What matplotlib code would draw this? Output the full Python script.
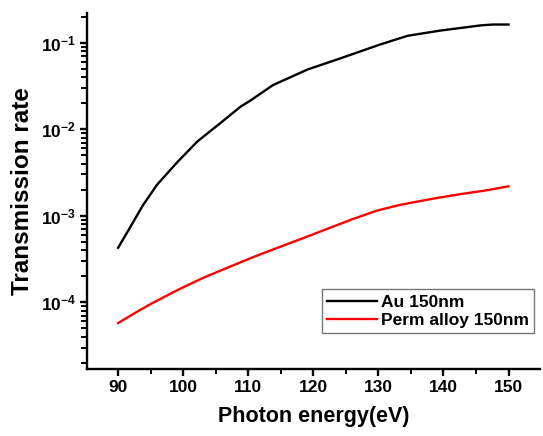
import numpy as np
import matplotlib
matplotlib.use("Agg")
import matplotlib.pyplot as plt
from matplotlib.ticker import FixedLocator, MultipleLocator, NullFormatter

plt.rcParams['font.family'] = ['Liberation Sans', 'DejaVu Sans']
plt.rcParams['font.weight'] = 'bold'
plt.rcParams['mathtext.fontset'] = 'custom'
plt.rcParams['mathtext.rm'] = 'Liberation Sans:bold'
plt.rcParams['mathtext.bf'] = 'Liberation Sans:bold'
plt.rcParams['mathtext.default'] = 'bf'

# Au 150nm (log10 of transmission)
au_energy = [90.0, 91.8, 93.8, 96.0, 99.1, 102.2, 105.7, 108.8, 110.3, 113.8,
             119.1, 124.2, 130.3, 134.5, 139.5, 145.7, 147.5, 150.0]
au_log = [-3.37, -3.14, -2.88, -2.64, -2.38, -2.14, -1.93, -1.74, -1.67, -1.49,
          -1.31, -1.18, -1.02, -0.92, -0.86, -0.80, -0.79, -0.79]

# Perm alloy 150nm
py_energy = [90.0, 92.9, 95.0, 99.1, 103.0, 106.8, 110.7, 114.5, 118.4, 122.2,
             126.0, 129.8, 133.0, 135.0, 138.6, 142.6, 146.3, 150.0]
py_log = [-4.24, -4.11, -4.02, -3.86, -3.72, -3.60, -3.48, -3.37, -3.26, -3.15,
          -3.04, -2.94, -2.88, -2.85, -2.80, -2.75, -2.71, -2.66]

au_rate = 10 ** np.array(au_log)
py_rate = 10 ** np.array(py_log)

fig = plt.figure(figsize=(5.43, 4.36), dpi=100)
ax = fig.add_axes([0.160, 0.154, 0.834, 0.816])

ax.plot(au_energy, au_rate, color='black', lw=1.7, label='Au 150nm')
ax.plot(py_energy, py_rate, color='red', lw=1.7, label='Perm alloy 150nm')

ax.set_yscale('log')
ax.set_xlim(85.2, 154.8)
ax.set_ylim(1.7e-5, 0.22)

ax.xaxis.set_major_locator(MultipleLocator(10))
ax.xaxis.set_minor_locator(MultipleLocator(5))
ax.yaxis.set_major_locator(FixedLocator([1e-4, 1e-3, 1e-2, 1e-1]))
minor_y = [m * 10.0 ** e for e in range(-5, 0) for m in range(2, 10)]
ax.yaxis.set_minor_locator(FixedLocator(minor_y))
ax.yaxis.set_minor_formatter(NullFormatter())

for s in ['top', 'right']:
    ax.spines[s].set_visible(False)
for s in ['left', 'bottom']:
    ax.spines[s].set_linewidth(1.7)

ax.tick_params(which='major', direction='out', length=5, width=1.7, labelsize=12.5, pad=3)
ax.tick_params(which='minor', direction='out', length=3.5, width=1.4)
ax.tick_params(axis='y', which='minor', left=True, length=4, width=1.4)

ax.set_xlabel('Photon energy(eV)', fontsize=15.5, fontweight='bold', labelpad=8)
ax.set_ylabel('Transmission rate', fontsize=17.5, fontweight='bold', labelpad=5)

leg = ax.legend(loc='lower right', bbox_to_anchor=(1.006, 0.075), fontsize=12.5,
                frameon=True, fancybox=False, edgecolor='#555555',
                handlelength=2.9, borderpad=0.3, labelspacing=0.2, handletextpad=0.2)
leg.get_frame().set_linewidth(1.0)
for t in leg.get_texts():
    t.set_fontweight('bold')

fig.savefig('out.png', dpi=100)
